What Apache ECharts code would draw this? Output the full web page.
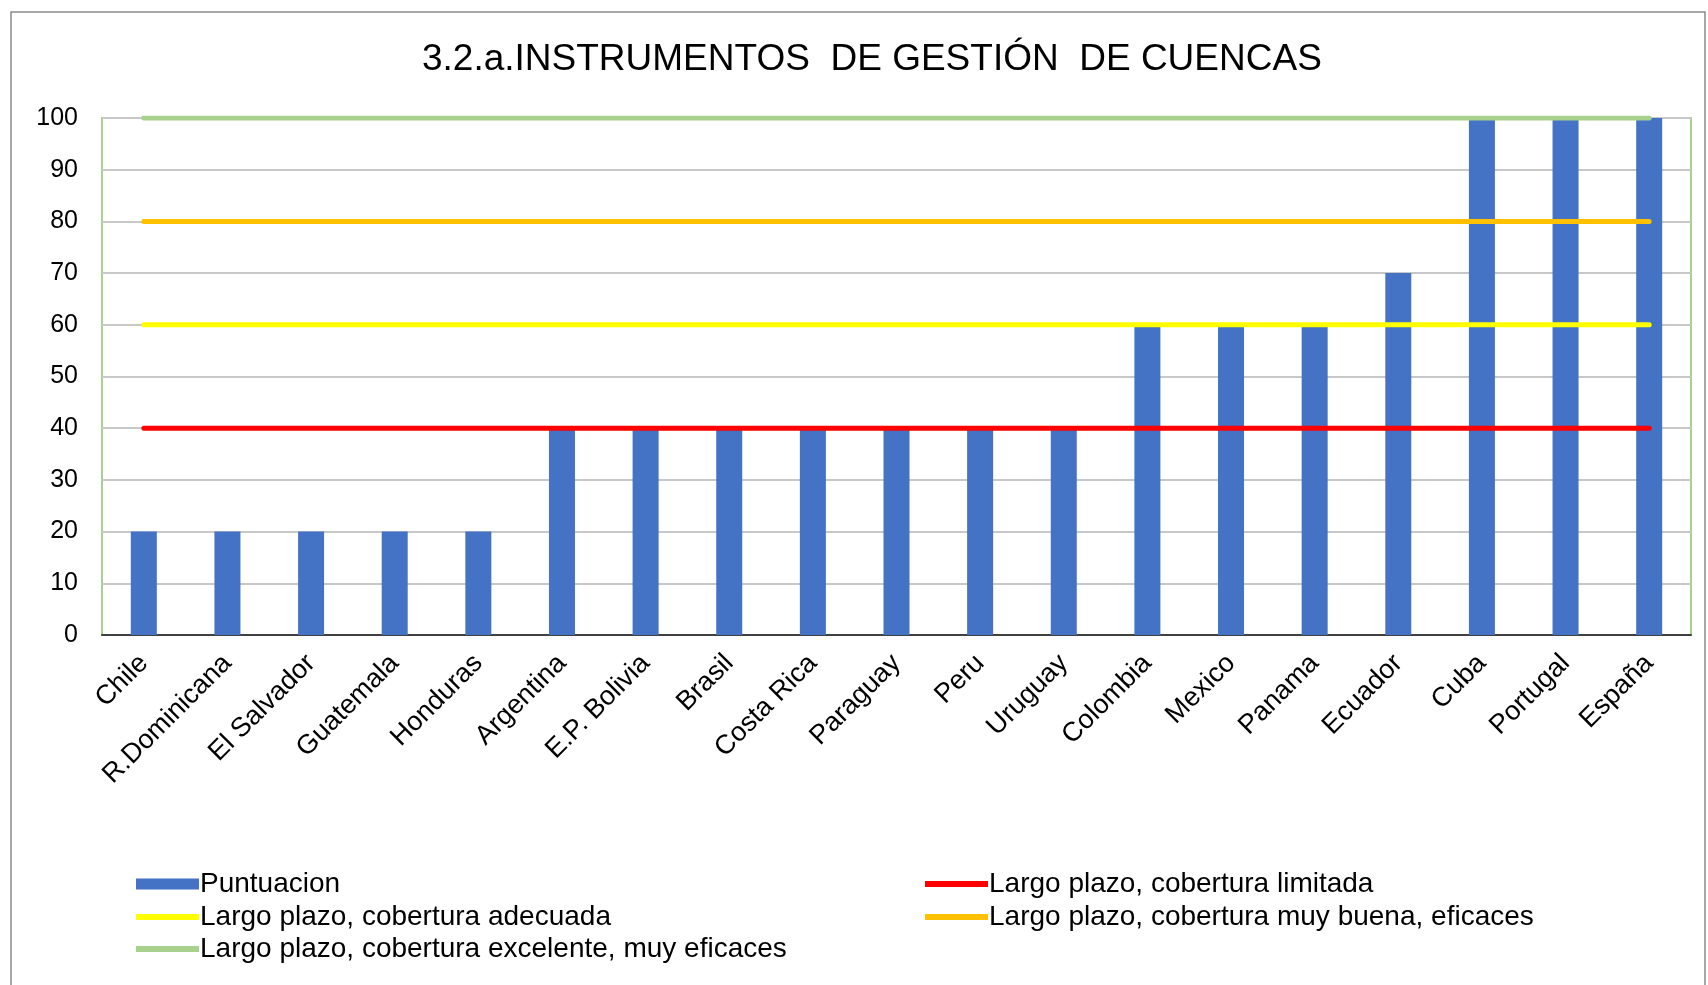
<!DOCTYPE html>
<html>
<head>
<meta charset="utf-8">
<script src="https://cdn.jsdelivr.net/npm/echarts@6/dist/echarts.min.js"></script>
<style>
  html, body { margin: 0; padding: 0; background: #fff; }
  #chart { width: 1708px; height: 985px; }
</style>
</head>
<body>
<div id="chart"></div>
<script>
const paises = ['Chile', 'R.Dominicana', 'El Salvador', 'Guatemala', 'Honduras', 'Argentina',
  'E.P. Bolivia', 'Brasil', 'Costa Rica', 'Paraguay', 'Peru', 'Uruguay', 'Colombia',
  'Mexico', 'Panama', 'Ecuador', 'Cuba', 'Portugal', 'España']
const puntuacion = [20, 20, 20, 20, 20, 40, 40, 40, 40, 40, 40, 40, 60, 60, 60, 70, 100, 100, 100]
const limitada = [40, 40, 40, 40, 40, 40, 40, 40, 40, 40, 40, 40, 40, 40, 40, 40, 40, 40, 40]
const adecuada = [60, 60, 60, 60, 60, 60, 60, 60, 60, 60, 60, 60, 60, 60, 60, 60, 60, 60, 60]
const muyBuena = [80, 80, 80, 80, 80, 80, 80, 80, 80, 80, 80, 80, 80, 80, 80, 80, 80, 80, 80]
const excelente = [100, 100, 100, 100, 100, 100, 100, 100, 100, 100, 100, 100, 100, 100, 100, 100, 100, 100, 100]

const FONT = 'Liberation Sans'
const chart = echarts.init(document.getElementById('chart'))

const lineSerie = (name, data, color) => ({
  name,
  type: 'line',
  data,
  symbol: 'none',
  z: 3,
  lineStyle: { color, width: 5, cap: 'round' },
  itemStyle: { color }
})

const legendItem = (name, left, top, h) => ({
  left, top,
  itemWidth: 63,
  itemHeight: h,
  itemGap: 0,
  data: [{ name, icon: 'rect' }],
  textStyle: { fontFamily: FONT, fontSize: 28, color: '#000', padding: [0, 0, 0, -4] }
})

chart.setOption({
  backgroundColor: '#fff',
  animation: false,
  title: {
    text: '3.2.a.INSTRUMENTOS  DE GESTIÓN  DE CUENCAS',
    left: 417,
    top: 36,
    textStyle: { fontFamily: FONT, fontSize: 37, fontWeight: 'normal', color: '#000' }
  },
  legend: [
    legendItem('Puntuacion', 131, 865, 11),
    legendItem('Largo plazo, cobertura limitada', 920, 865, 6),
    legendItem('Largo plazo, cobertura adecuada', 131, 898, 6),
    legendItem('Largo plazo, cobertura muy buena, eficaces', 920, 898, 6),
    legendItem('Largo plazo, cobertura excelente, muy eficaces', 131, 930, 6)
  ],
  grid: {
    left: 102, right: 17, top: 118, bottom: 350,
    show: true, borderColor: '#a9d18e', borderWidth: 2
  },
  xAxis: {
    type: 'category',
    data: paises,
    axisLine: { lineStyle: { color: '#404040', width: 2 } },
    axisTick: { show: false },
    axisLabel: { rotate: 45, interval: 0, margin: 24, fontFamily: FONT, fontSize: 27, color: '#000' }
  },
  yAxis: {
    type: 'value',
    min: 0, max: 100, interval: 10,
    axisLine: { show: false },
    axisTick: { show: false },
    splitLine: { lineStyle: { color: '#c8c8c8', width: 2 } },
    axisLabel: { margin: 24, fontFamily: FONT, fontSize: 25, color: '#000' }
  },
  series: [
    {
      name: 'Puntuacion',
      type: 'bar',
      data: puntuacion,
      barWidth: 26,
      z: 2,
      itemStyle: { color: '#4472c4' }
    },
    lineSerie('Largo plazo, cobertura limitada', limitada, '#ff0000'),
    lineSerie('Largo plazo, cobertura adecuada', adecuada, '#ffff00'),
    lineSerie('Largo plazo, cobertura muy buena, eficaces', muyBuena, '#ffc000'),
    lineSerie('Largo plazo, cobertura excelente, muy eficaces', excelente, '#a9d18e')
  ],
  graphic: [{
    type: 'rect',
    shape: { x: 11, y: 12, width: 1694, height: 990 },
    style: { fill: null, stroke: '#8c8c8c', lineWidth: 1.5 },
    silent: true
  }]
})
</script>
</body>
</html>
